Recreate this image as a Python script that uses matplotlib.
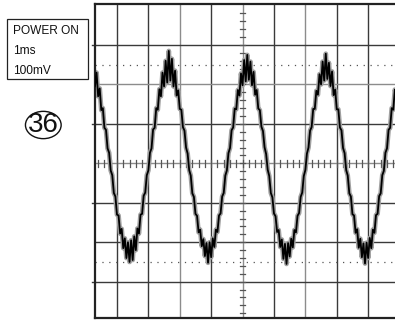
import matplotlib
matplotlib.use("Agg")
import matplotlib.pyplot as plt
import numpy as np
from matplotlib.patches import Rectangle, Ellipse

plt.rcParams["font.family"] = ["Liberation Sans", "DejaVu Sans"]

# ── Data (screen divisions; trace sampled every 0.05 div) ────────────────
settings = ["POWER ON", "1ms", "100mV"]
figure_no = "36"
t0 = -4.85
dt = 0.05
trace_div = [
    # cycle 1
    2.55, 2.05, 2.50, 1.95, 2.30, 1.70, 1.90, 1.35, 1.40, 0.90,
    0.85, 0.38, 0.27, -0.18, -0.30, -0.75, -0.84, -1.30, -1.32, -1.78,
    -1.66, -2.15, -1.90, -2.40, -2.00, -2.50, -1.95, -2.45, -1.85, -2.20,
    -1.65, -1.78, -1.30, -1.28, -0.82, -0.74, -0.30, -0.18, 0.27, 0.38,
    0.86, 0.90, 1.40, 1.36, 1.88, 1.70, 2.30, 1.95, 2.60, 2.05,
    # cycle 2
    2.85, 2.10, 2.65, 1.95, 2.35, 1.72, 1.85, 1.38, 1.36, 0.92,
    0.83, 0.40, 0.25, -0.17, -0.31, -0.76, -0.85, -1.28, -1.33, -1.75,
    -1.68, -2.10, -1.92, -2.35, -2.02, -2.52, -2.00, -2.38, -1.90, -2.12,
    -1.68, -1.74, -1.32, -1.27, -0.84, -0.75, -0.31, -0.18, 0.26, 0.39,
    0.84, 0.91, 1.39, 1.37, 1.86, 1.72, 2.28, 1.98, 2.62, 2.08,
    # cycle 3
    2.75, 2.12, 2.58, 1.98, 2.32, 1.74, 1.86, 1.39, 1.35, 0.93,
    0.82, 0.41, 0.24, -0.16, -0.32, -0.75, -0.86, -1.27, -1.34, -1.74,
    -1.69, -2.12, -1.93, -2.42, -2.04, -2.55, -2.02, -2.36, -1.91, -2.13,
    -1.69, -1.75, -1.33, -1.26, -0.85, -0.74, -0.32, -0.17, 0.25, 0.40,
    0.83, 0.92, 1.38, 1.38, 1.84, 1.74, 2.26, 2.00, 2.58, 2.10,
    # cycle 4
    2.78, 2.14, 2.55, 1.96, 2.33, 1.73, 1.87, 1.37, 1.37, 0.91,
    0.84, 0.39, 0.26, -0.17, -0.31, -0.76, -0.84, -1.29, -1.32, -1.76,
    -1.67, -2.14, -1.91, -2.38, -2.03, -2.54, -2.01, -2.40, -1.89, -2.15,
    -1.68, -1.76, -1.31, -1.28, -0.83, -0.76, -0.30, -0.19, 0.27, 0.38,
    0.85, 0.90, 1.40, 1.36, 1.87, 1.72, 2.25,
]
t = t0 + dt * np.arange(len(trace_div))

W, H = 395, 323
fig = plt.figure(figsize=(W / 100, H / 100), dpi=100)
fig.patch.set_facecolor("white")

# ── Scope screen ─────────────────────────────────────────────────────────
ax = fig.add_axes([95 / W, 5 / H, 300 / W, 314 / H])
ax.set_xlim(-4.70, 4.855)
ax.set_ylim(-3.92, 4.04)
ax.set_xticks([])
ax.set_yticks([])
for s in ["top", "left", "bottom"]:
    ax.spines[s].set_linewidth(1.6)
    ax.spines[s].set_color("#222222")
ax.spines["right"].set_visible(False)

DARK = "#3a3a3a"
LIGHT = "#8c8c8c"
for x in range(-4, 5):
    if x == 0:
        continue
    ax.axvline(x, color=LIGHT if abs(x) == 2 else DARK, lw=1.0, zorder=1)
for y in range(-3, 4):
    if y == 0:
        continue
    ax.axhline(y, color=LIGHT if y == 2 else DARK, lw=1.0, zorder=1)

# centre graticule with minor ticks
ax.axvline(0, color=LIGHT, lw=1.0, zorder=1)
ax.axhline(0, color=LIGHT, lw=1.0, zorder=1)
for x in np.arange(-4.6, 4.85, 0.2):
    ax.plot([x, x], [-0.09, 0.09], color="#555555", lw=0.9, zorder=1)
for y in np.arange(-3.8, 3.85, 0.2):
    ax.plot([-0.08, 0.08], [y, y], color="#555555", lw=0.9, zorder=1)

# dotted 10%/90% lines
for y in (2.5, -2.5):
    ax.axhline(y, color="#555555", lw=0.9, ls=(0, (1, 4.5)), zorder=1)

# ticks sticking out of the left edge
for y in (-3, -1, 1, 3):
    ax.plot([-4.80, -4.70], [y, y], color=DARK, lw=1.0, clip_on=False)

# trace: grey glow + black beam
ax.plot(t, trace_div, color="#a0a0a0", lw=3.4, zorder=2)
ax.plot(t, trace_div, color="black", lw=1.3, zorder=3)

# ── Settings box ─────────────────────────────────────────────────────────
fig.patches.append(Rectangle((7.3 / W, 1 - 79 / H), 80.4 / W, 60 / H,
                             transform=fig.transFigure, fill=False,
                             edgecolor="#222222", lw=0.9))
for i, label in enumerate(settings):
    fig.text(13.3 / W, 1 - (30.7 + 20.2 * i) / H, label, fontsize=8.6,
             ha="left", va="center", color="#111111")

# ── Circled figure number ────────────────────────────────────────────────
fig.patches.append(Ellipse((43.3 / W, 1 - 125 / H), 35.7 / W, 27.3 / H,
                           transform=fig.transFigure, fill=False,
                           edgecolor="#111111", lw=1.0))
fig.text(43.5 / W, 1 - 125 / H, figure_no, fontsize=20, ha="center",
         va="center", color="#111111")

fig.savefig("out.png", dpi=100, facecolor="white")
plt.close(fig)
